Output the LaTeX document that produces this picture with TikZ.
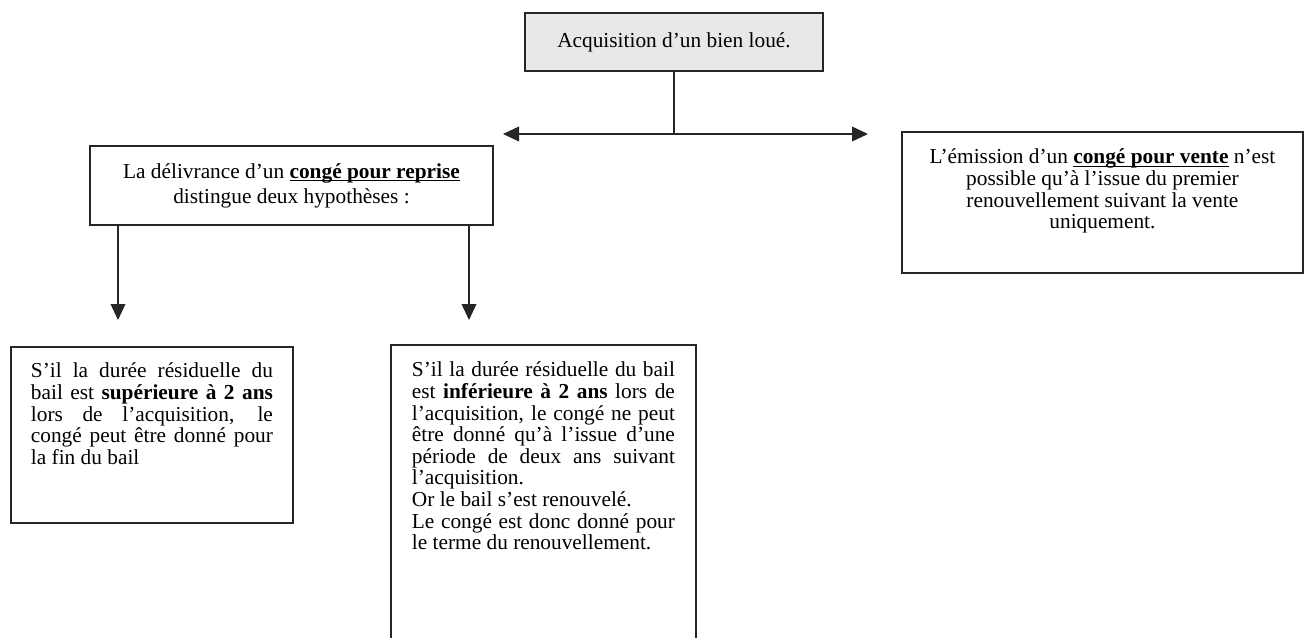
\documentclass[tikz,border=0pt]{standalone}
\usepackage{fontspec}
\setmainfont{Liberation Serif}
\usetikzlibrary{arrows.meta}
\tikzset{
  cadre/.style={draw=black!85, line width=1.4pt, inner sep=0pt},
  fleche/.style={-{Triangle[length=12pt,width=11pt]}, line width=1.2pt, draw=black!85},
}
\newsavebox{\soulbox}
\newcommand{\souligne}[1]{\sbox{\soulbox}{\textbf{#1}}\rlap{\rule[-2.4pt]{\wd\soulbox}{0.8pt}}\usebox{\soulbox}}
\begin{document}
\begin{tikzpicture}[x=0.75pt, y=-0.75pt, font=\fontsize{16}{16.2}\selectfont]
  \useasboundingbox (0,0) rectangle (1306,638);
  \clip (0,0) rectangle (1306,638);
  % titre
  \node[cadre, fill=gray!18, minimum width=223.5pt, minimum height=43.5pt] (acq) at (674,42) {Acquisition d’un bien loué.};
  % les deux conges
  \node[cadre, align=center, minimum width=302.25pt, minimum height=59.25pt,
        font=\fontsize{16}{18.75}\selectfont] (reprise) at (291.5,185.5)
       {La délivrance d’un \souligne{congé pour reprise}\\distingue deux hypothèses :};
  \node[cadre, anchor=north west, inner xsep=7.5pt] (vente) at (901,131)
       {\parbox[c][105.75pt][t]{285.75pt}{\centering\vspace*{12.7pt}\strut
        L’émission d’un \souligne{congé pour vente} n’est\\
        possible qu’à l’issue du premier\\
        renouvellement suivant la vente\\
        uniquement.}};
  % les deux hypotheses
  \node[cadre, anchor=north west, inner xsep=15pt] (sup) at (10,346)
       {\parbox[c][132pt][t]{181.5pt}{\hyphenpenalty=10000\vspace*{11.9pt}\strut
        S’il la durée résiduelle du\linebreak
        bail est \textbf{supérieure à 2 ans}\linebreak
        lors de l’acquisition, le\linebreak
        congé peut être donné pour\linebreak
        la fin du bail}};
  \node[cadre, anchor=north west, inner xsep=15.75pt] (inf) at (390,344)
       {\parbox[c][237pt][t]{197.25pt}{\hyphenpenalty=10000\vspace*{12.7pt}\strut
        S’il la durée résiduelle du bail\linebreak
        est \textbf{inférieure à 2 ans} lors de\linebreak
        l’acquisition, le congé ne peut\linebreak
        être donné qu’à l’issue d’une\linebreak
        période de deux ans suivant\linebreak
        l’acquisition.\par
        Or le bail s’est renouvelé.\par
        Le congé est donc donné pour\linebreak
        le terme du renouvellement.}};
  % fleches
  \coordinate (gauche) at (503,134);
  \coordinate (droite) at (868,134);
  \coordinate (noeud) at (acq.south |- gauche);
  \draw[line width=1.2pt, black!85] (acq.south) -- (noeud);
  \draw[fleche] (noeud) -- (gauche);
  \draw[fleche] (noeud) -- (droite);
  \coordinate (h1) at (118,320);
  \coordinate (h2) at (469,320);
  \draw[fleche] (reprise.south -| h1) -- (h1);
  \draw[fleche] (reprise.south -| h2) -- (h2);
\end{tikzpicture}
\end{document}
